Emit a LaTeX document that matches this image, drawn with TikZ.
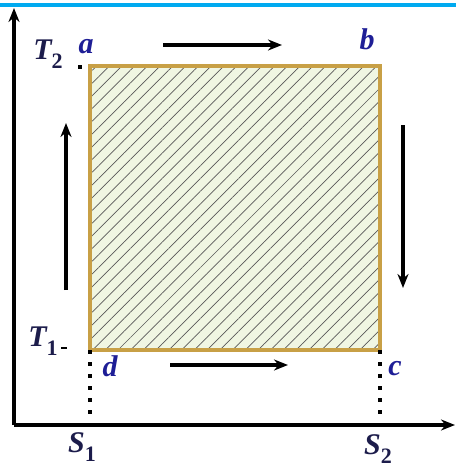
\documentclass[tikz,border=0pt]{standalone}
\usepackage{fontspec}
\setmainfont{Liberation Serif}
\usetikzlibrary{arrows.meta, patterns.meta}

\definecolor{cycleedge}{RGB}{200,160,70}
\definecolor{cyclefill}{RGB}{240,246,226}
\definecolor{axislabel}{RGB}{28,28,75}
\definecolor{statelabel}{RGB}{30,30,150}
\definecolor{topbar}{RGB}{0,170,240}

\newcommand{\symsub}[2]{{\itshape #1}\raisebox{-0.3em}{\fontsize{22}{22}\selectfont\upshape #2}}

\begin{document}
\begin{tikzpicture}[
  x=1pt, y=-1pt,
  >={Stealth[length=14pt,width=11pt]},
  axis/.style={line width=3.4pt, ->},
  flow/.style={line width=3.4pt, ->},
  guide/.style={line width=4pt, dash pattern=on 4pt off 8pt},
  var/.style={text=axislabel, font=\fontsize{30}{30}\selectfont\bfseries\itshape, inner sep=0pt},
  state/.style={text=statelabel, font=\fontsize{30}{30}\selectfont\bfseries\itshape, inner sep=0pt}
]
\useasboundingbox (0,0) rectangle (456,468);
\draw[topbar, line width=4pt] (0,5) -- (456,5);

% corners of the cycle
\coordinate (a) at (90,66);
\coordinate (b) at (380,66);
\coordinate (c) at (380,350);
\coordinate (d) at (90,350);
\coordinate (O) at (14,425);

\fill[cyclefill] (a) rectangle (c);
\fill[pattern={Lines[angle=45,distance=9pt,line width=0.7pt]}, pattern color=gray!70!black] (a) rectangle (c);
\draw[cycleedge, line width=4pt] (a) rectangle (c);

% axes
\draw[axis] (O) -- (14,8);
\draw[axis] (O) -- (455,425);

% guides down to S axis
\draw[guide] (d) -- (d |- 0,421);
\draw[guide] (c) -- (c |- 0,421);
\fill (78,65) rectangle (82,69);
\draw[line width=2pt] (61,348) -- (67,348);

% direction of the cycle
\draw[flow] (163,45) -- (282,45);
\draw[flow] (403,125) -- (403,288);
\draw[flow] (170,365) -- (288,365);
\draw[flow] (66,290) -- (66,123);

\node[var] (T2) at (48,54) {\symsub{T}{2}};
\node[var] (T1) at (43,341) {\symsub{T}{1}};
\node[var] (S1) at (82,447) {\symsub{S}{1}};
\node[var] (S2) at (378,449) {\symsub{S}{2}};

\node[state] (la) at (86,47) {a};
\node[state] (lb) at (367,39) {b};
\node[state] (lc) at (395,369) {c};
\node[state] (ld) at (110,366) {d};
\end{tikzpicture}
\end{document}
